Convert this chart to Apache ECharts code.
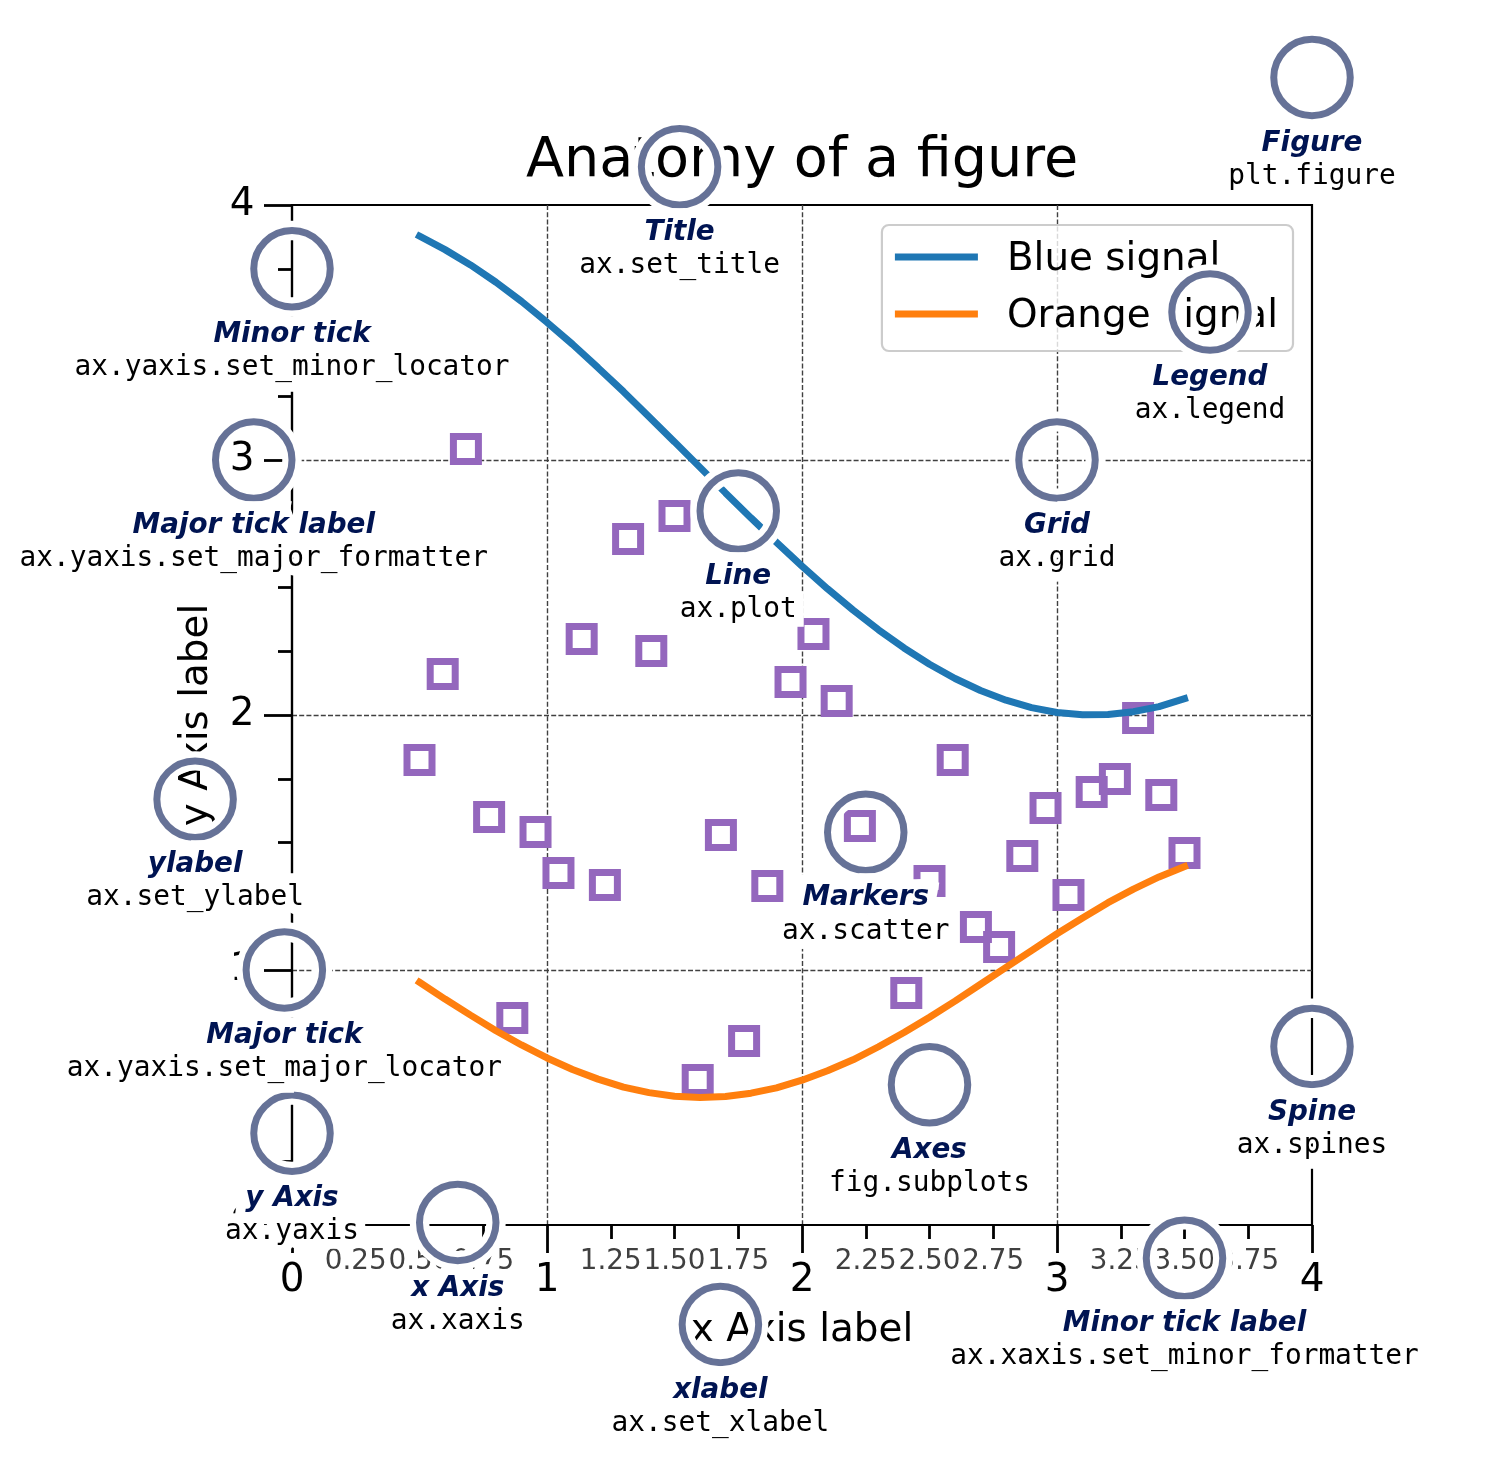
<!DOCTYPE html>
<html><head><meta charset="utf-8">
<script src="https://cdn.jsdelivr.net/npm/echarts@6/dist/echarts.min.js"></script>
<style>html,body{margin:0;padding:0;background:#fff}#c{width:1486px;height:1470px}</style>
</head><body><div id="c"></div><script>
// ---- data ----
const lineX = [0.5,0.6,0.7,0.8,0.9,1.0,1.1,1.2,1.3,1.4,1.5,1.6,1.7,1.8,1.9,2.0,2.1,2.2,2.3,2.4,2.5,2.6,2.7,2.8,2.9,3.0,3.1,3.2,3.3,3.4,3.5];
const blueSignal = [3.878,3.825,3.765,3.697,3.622,3.540,3.454,3.362,3.268,3.170,3.071,2.971,2.871,2.773,2.677,2.584,2.495,2.412,2.334,2.263,2.199,2.143,2.096,2.058,2.029,2.010,2.001,2.002,2.013,2.033,2.064];
const orangeSignal = [0.952,0.886,0.823,0.762,0.706,0.655,0.610,0.572,0.541,0.519,0.505,0.500,0.504,0.517,0.538,0.568,0.605,0.648,0.699,0.755,0.815,0.878,0.944,1.010,1.076,1.142,1.204,1.264,1.317,1.365,1.406];
const markerX = [0.5,0.591,0.682,0.773,0.864,0.955,1.045,1.136,1.227,1.318,1.409,1.5,1.591,1.682,1.773,1.864,1.955,2.045,2.136,2.227,2.318,2.409,2.5,2.591,2.682,2.773,2.864,2.955,3.045,3.136,3.227,3.318,3.409,3.5];
const markerY = [1.824,2.161,3.043,1.600,0.812,1.541,1.380,2.298,1.333,2.690,2.251,2.780,0.569,1.529,0.722,1.329,2.129,2.318,2.055,1.565,1.25,0.910,1.349,1.824,1.169,1.090,1.447,1.635,1.294,1.698,1.749,1.988,1.686,1.459];
const seriesNames = ['Blue signal', 'Orange signal'];
const titleText = 'Anatomy of a figure';
const xAxisName = 'x Axis label';
const yAxisName = 'y Axis label';
// annotations: anchor (data coords), label, code
const annX = [3.5, -0.03, 0.00, -0.15, 1.68, -0.38, 1.52, 1.75, 2.25, 3.00, 3.60, 2.5, 4, 0.65, 0, 4.0];
const annY = [-0.13, 1.0, 3.75, 3.00, -0.39, 1.67, 4.15, 2.80, 1.54, 3.00, 3.58, 0.55, 4.5, 0.01, 0.36, 0.7];
const annLabel = ['Minor tick label','Major tick','Minor tick','Major tick label','xlabel','ylabel','Title','Line','Markers','Grid','Legend','Axes','Figure','x Axis','y Axis','Spine'];
const annCode = ['ax.xaxis.set_minor_formatter','ax.yaxis.set_major_locator','ax.yaxis.set_minor_locator','ax.yaxis.set_major_formatter','ax.set_xlabel','ax.set_ylabel','ax.set_title','ax.plot','ax.scatter','ax.grid','ax.legend','fig.subplots','plt.figure','ax.xaxis','ax.yaxis','ax.spines'];

// ---- styles ----
const SANS = 'DejaVu Sans', MONO = 'DejaVu Sans Mono';
const FS_MAJOR = 38.9, FS_MINOR = 27.8, FS_TITLE = 55.6;
const ROYAL = '#001452';
const HALO = 19.4;

const chart = echarts.init(document.getElementById('c'), null, {renderer: 'canvas'});

function textSeries(name, dy, texts, isCode, halo, z) {
  return {
    name, type: 'scatter', z, silent: true, clip: false,
    symbol: 'circle', symbolSize: 1,
    itemStyle: {color: 'transparent', opacity: 1},
    emphasis: {disabled: true},
    data: annX.map((x, i) => ({value: [x, annY[i] + dy], name: texts[i]})),
    label: {
      show: true, position: 'inside', align: 'center', verticalAlign: 'top',
      offset: [0, 1], opacity: 1,
      formatter: '{b}',
      fontFamily: isCode ? MONO : SANS,
      fontWeight: isCode ? 'normal' : 'bold',
      fontStyle: isCode ? 'normal' : 'italic',
      fontSize: FS_MINOR, lineHeight: FS_MINOR,
      color: halo ? '#fff' : (isCode ? '#000' : ROYAL),
      textBorderColor: halo ? '#fff' : 'transparent',
      textBorderWidth: halo ? HALO : 0
    }
  };
}

const axisCommon = {
  type: 'value', min: 0, max: 4, interval: 1,
  axisLine: {show: true, onZero: false, lineStyle: {color: '#000', width: 2.2}},
  axisTick: {show: true, length: 28, lineStyle: {color: '#000', width: 2.8}},
  minorTick: {show: true, splitNumber: 4, length: 14, lineStyle: {color: '#000', width: 2.8}},
  splitLine: {show: true, showMinLine: false, showMaxLine: false, lineStyle: {type: [5, 2.2], color: '#404040', width: 1.4}},
  minorSplitLine: {show: false},
  nameLocation: 'middle',
  nameTextStyle: {fontFamily: SANS, fontSize: FS_MAJOR, color: '#000', lineHeight: FS_MAJOR}
};

const option = {
  backgroundColor: '#fff',
  animation: false,
  title: {
    text: titleText, left: 802, top: 134, textAlign: 'center', padding: 0, z: 3,
    textStyle: {fontFamily: SANS, fontSize: FS_TITLE, fontWeight: 'normal', color: '#000', lineHeight: FS_TITLE}
  },
  legend: {
    data: seriesNames, orient: 'vertical', right: 193, top: 225,
    itemWidth: 83, itemHeight: 7, itemGap: 12, icon: 'rect', selectedMode: false,
    padding: [9.5, 15, 14.5, 13],
    backgroundColor: 'rgba(255,255,255,0.8)', borderColor: '#cccccc', borderWidth: 2.2, borderRadius: 7,
    formatter: '{t|{name}}',
    textStyle: {
      fontFamily: SANS, fontSize: FS_MAJOR, lineHeight: 45, color: '#000',
      rich: {t: {fontFamily: SANS, fontSize: FS_MAJOR, lineHeight: 45, color: '#000', padding: [6, 0, 0, 24]}}
    },
    z: 4
  },
  grid: {left: 292, top: 205, width: 1020, height: 1020, show: true, borderColor: '#000', borderWidth: 2.2,
         backgroundColor: 'transparent', containLabel: false, outerBoundsMode: 'none'},
  xAxis: [
    Object.assign({}, axisCommon, {
      position: 'bottom', name: xAxisName, nameGap: 86,
      axisLabel: {fontFamily: SANS, fontSize: FS_MAJOR, color: '#000', margin: 36, lineHeight: FS_MAJOR}
    }),
    {
      type: 'value', min: 0, max: 4, interval: 0.25, position: 'bottom',
      axisLine: {show: false}, axisTick: {show: false}, splitLine: {show: false},
      axisLabel: {
        fontFamily: SANS, fontSize: FS_MINOR, color: '#404040', margin: 23, lineHeight: FS_MINOR, hideOverlap: false,
        showMinLabel: true, showMaxLabel: true,
        formatter: v => Math.abs(v - Math.round(v)) < 1e-9 ? '' : v.toFixed(2)
      }
    }
  ],
  yAxis: [
    Object.assign({}, axisCommon, {
      position: 'left', name: yAxisName, nameGap: 76,
      axisLabel: {fontFamily: SANS, fontSize: FS_MAJOR, color: '#000', margin: 37.5, lineHeight: FS_MAJOR}
    })
  ],
  series: [
    {
      name: 'markers', type: 'scatter', z: 3, silent: true,
      symbol: 'rect', symbolSize: 25,
      itemStyle: {color: 'transparent', borderColor: '#9467bd', borderWidth: 7, opacity: 1},
      emphasis: {disabled: true},
      data: markerX.map((x, i) => [x, markerY[i]])
    },
    {
      name: seriesNames[0], type: 'line', z: 5, silent: true, symbol: 'none', showSymbol: false,
      lineStyle: {color: '#1f77b4', width: 7, cap: 'square', opacity: 1}, itemStyle: {color: '#1f77b4'},
      emphasis: {disabled: true},
      data: lineX.map((x, i) => [x, blueSignal[i]])
    },
    {
      name: seriesNames[1], type: 'line', z: 5, silent: true, symbol: 'none', showSymbol: false,
      lineStyle: {color: '#ff7f0e', width: 7, cap: 'square', opacity: 1}, itemStyle: {color: '#ff7f0e'},
      emphasis: {disabled: true},
      data: lineX.map((x, i) => [x, orangeSignal[i]])
    },
    {
      name: 'circleHalo', type: 'scatter', z: 10, silent: true, clip: false,
      symbol: 'circle', symbolSize: 76.5,
      itemStyle: {color: 'transparent', borderColor: '#fff', borderWidth: HALO, opacity: 1},
      emphasis: {disabled: true},
      data: annX.map((x, i) => [x, annY[i]])
    },
    {
      name: 'circleRing', type: 'scatter', z: 11, silent: true, clip: false,
      symbol: 'circle', symbolSize: 76.5,
      itemStyle: {color: 'transparent', borderColor: 'rgba(0,20,82,0.6)', borderWidth: 7, opacity: 1},
      emphasis: {disabled: true},
      data: annX.map((x, i) => [x, annY[i]])
    },
    textSeries('labelHalo', -0.2, annLabel, false, true, 20),
    textSeries('codeHalo', -0.33, annCode, true, true, 20),
    textSeries('labelText', -0.2, annLabel, false, false, 21),
    textSeries('codeText', -0.33, annCode, true, false, 21)
  ]
};
chart.setOption(option);
</script></body></html>
